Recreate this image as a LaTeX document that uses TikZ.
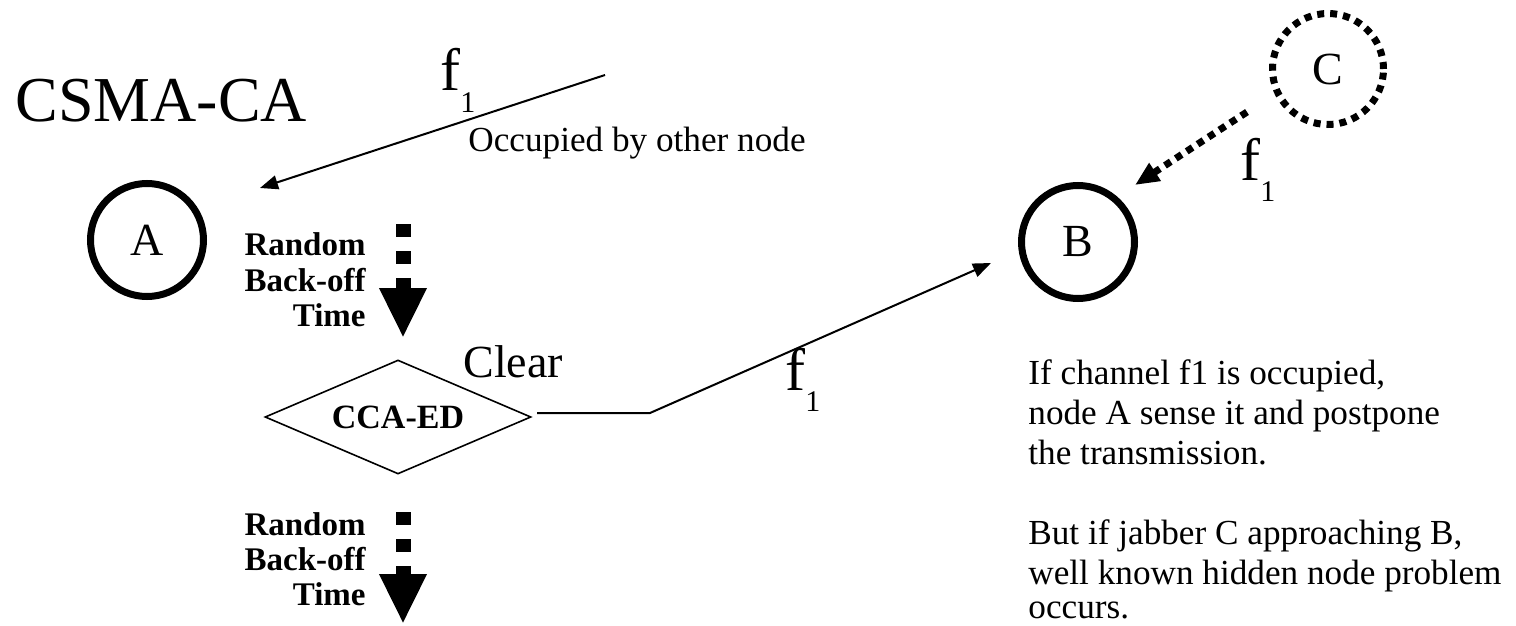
\documentclass[tikz,border=0pt]{standalone}
\usepackage{fontspec}
\setmainfont{Liberation Serif}
\usetikzlibrary{arrows.meta,shapes.geometric}
\newcommand\fsubone{f\raisebox{-10.5pt}{\fontsize{15}{15}\selectfont 1}}
\begin{document}
\begin{tikzpicture}[x=0.5pt,y=-0.5pt,
  station/.style={circle,draw,line width=3.5pt,minimum size=56.5pt,inner sep=0pt,font=\fontsize{23}{26}\selectfont},
  jabber/.style={circle,draw,line width=3.5pt,dash pattern=on 3.5pt off 3pt,minimum size=55.5pt,inner sep=0pt,font=\fontsize{23}{26}\selectfont},
  txt/.style={inner sep=0pt,anchor=base west},
  flabel/.style={txt,font=\fontsize{30}{34}\selectfont},
  note/.style={txt,font=\fontsize{17.6}{20}\selectfont},
  boldlbl/.style={inner sep=0pt,anchor=base east,font=\fontsize{16.5}{18}\selectfont\bfseries},
  thin/.style={line width=1pt,-{Triangle[length=9pt,width=7pt]}},
  backoff/.style={line width=7.5pt,dash pattern=on 6.5pt off 7pt,-{Triangle[length=25pt,width=22pt]}},
  dotarrow/.style={line width=3.5pt,dash pattern=on 3.5pt off 3pt,-{Triangle[length=12pt,width=10pt]}}
]
\useasboundingbox (0,0) rectangle (1516,626);

% title
\node[txt,font=\fontsize{32}{38}\selectfont] (title) at (15,122) {CSMA-CA};

% stations
\node[station] (A) at (147,240) {A};
\node[station] (B) at (1078,242) {B};
\node[jabber] (C) at (1328,69) {C};

% incoming occupied signal
\coordinate (occS) at (605,75);
\coordinate (occE) at (260,188);
\draw[thin] (occS) -- (occE);
\node[flabel] (f1a) at (440,91) {\fsubone};
\node[note] (occ) at (468,152) {Occupied by other node};

% first back-off
\coordinate (bo1s) at (403,224);
\coordinate (bo1e) at (403,338);
\draw[backoff] (bo1s) -- (bo1e);
\node[boldlbl] (r1) at (366,256) {Random};
\node[boldlbl] (r2) at (366,291) {Back-off};
\node[boldlbl] (r3) at (366,326) {Time};

% CCA
\node[diamond,draw,line width=0.8pt,aspect=2.33,minimum width=133pt,minimum height=57pt,inner sep=0pt,font=\fontsize{17}{20}\selectfont\bfseries] (cca) at (398,417) {CCA-ED};
\node[txt,font=\fontsize{23}{26}\selectfont] (clear) at (463,377) {Clear};

% transmission to B
\coordinate (ccaout) at (537,413);
\coordinate (bend) at (650,413);
\coordinate (btip) at (991,263);
\draw[thin] (ccaout) -- (bend) -- (btip);
\node[flabel] (f1b) at (785,390) {\fsubone};

% second back-off
\coordinate (bo2s) at (403,512);
\coordinate (bo2e) at (403,624);
\draw[backoff] (bo2s) -- (bo2e);
\node[boldlbl] (s1) at (366,535) {Random};
\node[boldlbl] (s2) at (366,570) {Back-off};
\node[boldlbl] (s3) at (366,605) {Time};

% jabber arrow
\coordinate (cs) at (1247,112);
\coordinate (ce) at (1135,185);
\draw[dotarrow] (cs) -- (ce);
\node[flabel] (f1c) at (1240,180) {\fsubone};

% explanation
\node[note] (n1) at (1028,384) {If channel f1 is occupied,};
\node[note] (n2) at (1028,424) {node A sense it and postpone};
\node[note] (n3) at (1028,464) {the transmission.};
\node[note] (n4) at (1028,544) {But if jabber C approaching B,};
\node[note] (n5) at (1028,584) {well known hidden node problem};
\node[note] (n6) at (1028,618) {occurs.};
\end{tikzpicture}
\end{document}
